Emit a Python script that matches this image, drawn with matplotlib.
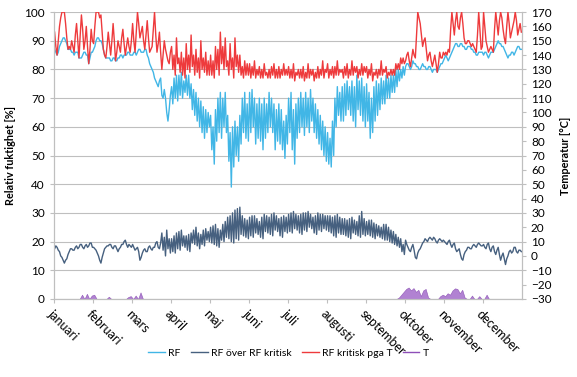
import numpy as np
import matplotlib.pyplot as plt

plt.rcParams['font.family'] = ['Lato', 'DejaVu Sans']

months = ['januari', 'februari', 'mars', 'april', 'maj', 'juni', 'juli',
          'augusti', 'september', 'oktober', 'november', 'december']

# 32 avläsningar per månad
rf = [87, 86, 85, 86, 88, 89, 90, 91, 91, 90, 89, 87, 87, 87, 86, 86, 85, 86, 86, 86, 84, 84, 84, 85, 86, 86, 85, 85, 82, 84, 86, 86,
      87, 88, 90, 91, 91, 90, 90, 89, 87, 85, 84, 84, 84, 84, 83, 83, 84, 84, 83, 83, 84, 84, 85, 85, 84, 85, 85, 85, 86, 86, 85, 85,
      85, 86, 86, 85, 86, 87, 87, 86, 86, 86, 87, 87, 85, 84, 82, 81, 80, 79, 77, 76, 75, 74, 76, 77, 71, 70, 73, 70, 65, 62, 66, 71,
      74, 68, 77, 70, 78, 69, 78, 71, 79, 70, 76, 72, 78, 71, 78, 70, 75, 66, 73, 64, 72, 62, 70, 60, 69, 58, 67, 56, 66, 58, 65, 60,
      64, 52, 60, 47, 66, 55, 70, 58, 72, 56, 70, 60, 72, 58, 64, 48, 58, 39, 60, 46, 62, 50, 60, 48, 64, 54, 70, 58, 72, 56, 68, 55,
      72, 58, 73, 60, 70, 54, 68, 56, 70, 55, 68, 52, 70, 56, 68, 58, 72, 60, 70, 58, 68, 52, 66, 55, 68, 54, 66, 52, 62, 49, 64, 54,
      70, 58, 72, 52, 66, 47, 68, 56, 70, 58, 72, 60, 70, 57, 72, 60, 70, 58, 73, 62, 70, 58, 68, 56, 66, 54, 64, 52, 62, 50, 60, 48,
      58, 47, 56, 46, 62, 50, 70, 60, 74, 64, 72, 62, 74, 62, 75, 64, 76, 66, 74, 64, 76, 62, 74, 60, 78, 66, 76, 64, 77, 62, 74, 60,
      75, 62, 72, 56, 70, 58, 74, 62, 76, 64, 75, 66, 77, 68, 76, 68, 78, 70, 77, 70, 78, 72, 78, 72, 80, 74, 80, 76, 80, 77, 81, 78,
      81, 82, 82, 81, 80, 81, 83, 82, 82, 81, 81, 80, 80, 81, 82, 81, 81, 80, 80, 81, 81, 80, 79, 80, 80, 80, 79, 80, 81, 82, 82, 83,
      84, 85, 84, 83, 84, 85, 86, 87, 88, 89, 89, 88, 88, 89, 89, 88, 88, 87, 87, 88, 88, 88, 87, 87, 86, 86, 85, 85, 86, 86, 86, 86,
      85, 86, 86, 85, 84, 85, 86, 86, 86, 87, 88, 89, 90, 89, 89, 88, 88, 87, 86, 85, 84, 85, 85, 86, 86, 85, 86, 87, 88, 88, 87, 87]

rf_krit = [93, 88, 85, 90, 95, 98, 100, 100, 100, 96, 91, 87, 88, 87, 90, 88, 86, 92, 96, 90, 84, 92, 99, 94, 87, 90, 95, 88, 82, 87, 94, 90,
           89, 95, 100, 100, 100, 98, 99, 93, 87, 85, 84, 88, 93, 89, 85, 90, 96, 90, 83, 86, 90, 88, 86, 91, 94, 89, 85, 88, 91, 88, 86, 90,
           96, 90, 86, 93, 100, 96, 91, 93, 95, 90, 87, 92, 97, 91, 86, 87, 88, 94, 100, 92, 86, 89, 93, 86, 80, 85, 90, 87, 85, 83, 82, 86,
           88, 80, 85, 78, 91, 82, 84, 79, 86, 78, 84, 77, 89, 80, 85, 79, 92, 81, 85, 78, 87, 79, 84, 77, 90, 80, 84, 79, 86, 78, 83, 78,
           85, 78, 83, 77, 88, 80, 87, 78, 93, 82, 88, 80, 91, 81, 83, 78, 89, 80, 84, 77, 91, 81, 85, 79, 85, 78, 81, 77, 83, 78, 82, 78,
           82, 77, 81, 78, 83, 77, 80, 78, 81, 77, 80, 77, 82, 78, 79, 77, 80, 77, 81, 78, 82, 77, 80, 77, 81, 77, 80, 78, 82, 78, 80, 78,
           81, 77, 80, 77, 82, 76, 79, 78, 80, 77, 80, 77, 81, 76, 79, 77, 82, 77, 80, 78, 80, 76, 79, 77, 81, 77, 80, 78, 83, 77, 80, 79,
           82, 77, 80, 78, 81, 77, 81, 78, 83, 78, 80, 79, 80, 77, 81, 78, 82, 77, 80, 78, 83, 78, 81, 79, 81, 77, 80, 78, 82, 78, 81, 79,
           81, 77, 80, 78, 82, 76, 79, 78, 80, 77, 80, 78, 83, 78, 80, 79, 81, 77, 79, 78, 80, 78, 80, 78, 82, 80, 82, 80, 84, 82, 84, 82,
           83, 85, 86, 83, 81, 84, 87, 85, 84, 92, 100, 98, 96, 92, 88, 90, 91, 87, 83, 85, 86, 83, 81, 83, 85, 82, 79, 82, 86, 84, 84, 86,
           85, 86, 85, 87, 86, 94, 100, 96, 92, 97, 100, 95, 94, 98, 100, 96, 91, 89, 89, 90, 90, 89, 88, 89, 88, 87, 86, 92, 100, 94, 87, 88,
           100, 95, 90, 88, 86, 87, 88, 87, 86, 94, 100, 96, 92, 97, 100, 98, 94, 91, 89, 95, 100, 96, 91, 93, 95, 97, 100, 97, 92, 94, 96, 93]

temp = [5, 7, 6, 4, 3, 0, -1, -3, -5, -3, -2, 1, 3, 5, 5, 4, 4, 6, 7, 5, 6, 8, 8, 6, 5, 7, 8, 6, 7, 9, 9, 6,
        6, 5, 4, 2, 0, -3, -5, -1, 2, 5, 6, 7, 7, 8, 8, 6, 5, 7, 7, 5, 3, 5, 6, 8, 8, 10, 11, 8, 6, 8, 7, 6,
        8, 6, 4, 5, 6, 3, -3, -1, 2, 4, 5, 3, 3, 6, 7, 5, 4, 6, 6, 9, 10, 6, 5, 9, 16, 4, 13, 0, 18, 5, 12, 2,
        12, 3, 14, 2, 16, 5, 17, 4, 18, 7, 14, 6, 14, 4, 15, 3, 16, 9, 18, 8, 20, 7, 16, 5, 15, 8, 18, 7, 19, 11, 17, 10,
        20, 9, 21, 8, 22, 7, 19, 6, 18, 11, 22, 10, 24, 13, 27, 12, 28, 10, 30, 9, 32, 12, 33, 11, 34, 15, 28, 14, 26, 13, 25, 12,
        27, 14, 28, 13, 28, 16, 26, 15, 24, 13, 27, 12, 29, 17, 28, 16, 27, 15, 29, 14, 30, 18, 28, 17, 26, 14, 27, 13, 28, 17, 27, 16,
        29, 17, 30, 16, 31, 19, 29, 18, 28, 16, 29, 15, 30, 18, 30, 17, 31, 20, 29, 19, 27, 16, 28, 15, 30, 18, 29, 17, 29, 19, 28, 18,
        28, 17, 28, 16, 27, 14, 28, 13, 29, 16, 27, 15, 26, 15, 26, 14, 25, 13, 26, 12, 27, 16, 25, 15, 24, 14, 28, 13, 31, 15, 26, 14,
        24, 15, 25, 14, 25, 13, 23, 12, 22, 14, 21, 13, 20, 12, 22, 11, 22, 11, 20, 10, 18, 9, 17, 8, 15, 7, 13, 6, 12, 3, 8, 1,
        11, 8, 6, 4, 3, 6, 8, 4, -1, -2, 2, 4, 5, 7, 9, 10, 12, 11, 10, 12, 13, 12, 11, 13, 12, 10, 9, 11, 12, 11, 10, 11,
        10, 9, 8, 10, 11, 8, 6, 8, 9, 5, 3, 4, 5, 1, -2, -3, 1, 3, 4, 6, 6, 5, 5, 7, 8, 7, 6, 8, 9, 8, 7, 7,
        8, 6, 5, 8, 9, 5, 3, 6, 7, 3, 1, 4, 6, 1, -3, 0, 2, -2, -6, -2, 0, 3, 4, 2, 3, 6, 6, 3, 2, 4, 4, 3]

# 16 avläsningar per månad
rf_over = [0, 0, 0, 0, 0, 0, 0, 0, 0, 0, 0, 1.5, 0, 1.8, 0, 1.2,
           1.5, 0, 0, 0, 0, 0, 0.8, 0, 0, 0, 0, 0, 0, 0, 0.7, 1.0,
           0, 1.2, 0, 2.3, 0, 0, 0, 0, 0, 0, 0, 0, 0, 0, 0, 0,
           0, 0, 0, 0, 0, 0, 0, 0, 0, 0, 0, 0, 0, 0, 0, 0,
           0, 0, 0, 0, 0, 0, 0, 0, 0, 0, 0, 0, 0, 0, 0, 0,
           0, 0, 0, 0, 0, 0, 0, 0, 0, 0, 0, 0, 0, 0, 0, 0,
           0, 0, 0, 0, 0, 0, 0, 0, 0, 0, 0, 0, 0, 0, 0, 0,
           0, 0, 0, 0, 0, 0, 0, 0, 0, 0, 0, 0, 0, 0, 0, 0,
           0, 0, 0, 0, 0, 0, 0, 0, 0, 0, 0, 0, 0, 0.5, 1.5, 2.5,
           3.5, 4.0, 3.0, 3.8, 2.5, 3.2, 1.0, 3.0, 3.5, 0.5, 0, 0, 0, 0, 1.0, 1.5,
           1.0, 2.0, 1.5, 3.0, 3.7, 3.5, 2.0, 3.2, 0.5, 0, 0, 1.2, 0, 0, 1.0, 0,
           0, 1.5, 0, 0, 0, 0, 0, 0, 0, 0, 0, 0, 0, 0, 0, 0]

x = (np.arange(len(rf)) + 0.5) / 32
x16 = (np.arange(len(rf_over)) + 0.5) / 16

fig = plt.figure(figsize=(5.77, 3.77), dpi=100)
ax = fig.add_axes([0.0936, 0.207, 0.811, 0.761])
ax2 = ax.twinx()

ax.plot(x, rf, color='#41B6E6', lw=1.0, label='RF')
ax2.plot(x, temp, color='#46607F', lw=1.0, label='RF över RF kritisk')
ax.plot(x, rf_krit, color='#EE3A3C', lw=1.0, label='RF kritisk pga T')
ax.fill_between(x16, 0, rf_over, color='#A46CCB', alpha=0.85,
                edgecolor='#8447AE', lw=0.4)
ax.plot([], [], color='#8E4FB8', lw=1.0, label='T')

ax.set_xlim(0, 12)
ax.set_ylim(0, 100)
ax2.set_ylim(-30, 170)
ax.set_yticks(range(0, 101, 10))
ax2.set_yticks(range(-30, 171, 10))
ax.set_xticks(range(12))
ax.set_xticklabels(months, rotation=-45, ha='left', va='top',
                   rotation_mode='anchor')
ax.grid(axis='y', color='#BFBFBF', lw=0.8)
ax.set_axisbelow(True)

for a in (ax, ax2):
    a.spines['top'].set_visible(False)
    for s in ('left', 'right', 'bottom'):
        a.spines[s].set_color('#BFBFBF')
    a.tick_params(colors='#BFBFBF', labelcolor='black', labelsize=8.5, length=3)
ax.tick_params(axis='x', labelsize=9)

ax.set_ylabel('Relativ fuktighet [%]', fontsize=7.8, fontweight='bold', labelpad=6)
ax2.set_ylabel('Temperatur [°C]', fontsize=7.8, fontweight='bold', labelpad=6)

h1, l1 = ax.get_legend_handles_labels()
h2, l2 = ax2.get_legend_handles_labels()
handles = [h1[0], h2[0], h1[1], h1[2]]
labels = [l1[0], l2[0], l1[1], l1[2]]
fig.legend(handles, labels, loc='center', bbox_to_anchor=(0.5, 0.063), ncol=4,
           frameon=False, fontsize=7.5, handlelength=1.6, handletextpad=0.3,
           columnspacing=1.0)

plt.savefig('out.png', dpi=100)
